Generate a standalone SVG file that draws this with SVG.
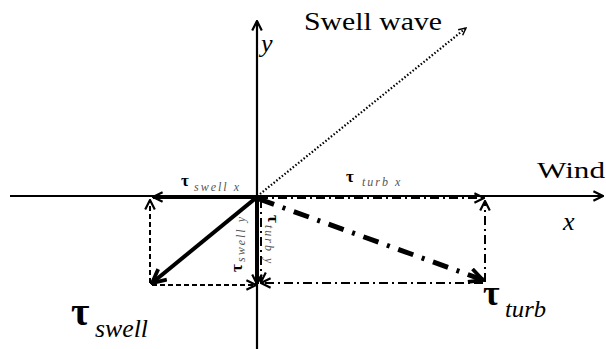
<svg xmlns="http://www.w3.org/2000/svg" width="606" height="349" viewBox="0 0 606 349">
<style>
.ax{stroke:#000;stroke-width:2.2;fill:none}
.thick{stroke:#000;stroke-width:4;fill:none}
.dash{stroke:#000;stroke-width:2;fill:none;stroke-dasharray:5 3}
.dd{stroke:#000;stroke-width:2;fill:none;stroke-dasharray:9 4 2 4}
.ddt{stroke:#000;stroke-width:5;fill:none;stroke-dasharray:16 9 3 9}
.dot{stroke:#000;stroke-width:2.2;fill:none;stroke-dasharray:1.5 2}
text{font-family:'Liberation Serif','DejaVu Serif','Times New Roman',serif}
.t{fill:#000}
.it{font-style:italic}
.sub{font-style:italic;fill:#555;font-size:12px;letter-spacing:2px}
.tau{font-weight:bold;fill:#000}
</style>
<defs>
<marker id="a" viewBox="0 0 10 10" refX="9" refY="5" markerWidth="12" markerHeight="12" markerUnits="userSpaceOnUse" orient="auto">
<path d="M1,1 L9,5 L1,9" fill="none" stroke="#000" stroke-width="1.8"/>
</marker>
<marker id="b" viewBox="0 0 10 10" refX="9" refY="5" markerWidth="17" markerHeight="17" markerUnits="userSpaceOnUse" orient="auto">
<path d="M1,1 L9,5 L1,9" fill="none" stroke="#000" stroke-width="2.2"/>
</marker>
<marker id="s" viewBox="0 0 10 10" refX="9" refY="5" markerWidth="9" markerHeight="9" markerUnits="userSpaceOnUse" orient="auto">
<path d="M1,1 L9,5 L1,9" fill="none" stroke="#000" stroke-width="1.6"/>
</marker>
</defs>
<g id="connectors">
<line class="ax" x1="10" y1="196" x2="603" y2="196" marker-end="url(#a)"/>
<line class="ax" x1="257" y1="349" x2="257" y2="21" marker-end="url(#a)"/>
<line class="dot" x1="260" y1="194" x2="466" y2="28" marker-end="url(#s)"/>
<line class="thick" x1="257" y1="197" x2="153" y2="197" marker-end="url(#a)"/>
<line class="thick" x1="257" y1="197" x2="257" y2="284" marker-end="url(#a)"/>
<line class="thick" x1="257" y1="197" x2="152" y2="283" marker-end="url(#b)"/>
<line class="dash" x1="150" y1="283" x2="150" y2="200" marker-end="url(#a)"/>
<line class="dash" x1="152" y1="285" x2="256" y2="285" marker-end="url(#a)"/>
<line class="dd" x1="259" y1="198" x2="484" y2="198" marker-end="url(#a)"/>
<line class="dd" x1="485" y1="282" x2="485" y2="201" marker-end="url(#a)"/>
<line class="dd" x1="483" y1="283" x2="261" y2="283" marker-end="url(#a)"/>
<line class="dd" x1="261" y1="199" x2="261" y2="282" marker-end="url(#a)"/>
<line class="ddt" x1="259" y1="199" x2="483" y2="280" marker-end="url(#b)"/>
</g>
<g id="axis-labels">
<text class="t it" x="261" y="52" font-size="26">y</text>
<text class="t it" x="563" y="230" font-size="26">x</text>
<text class="t" x="537" y="178" font-size="24" textLength="68" lengthAdjust="spacingAndGlyphs">Wind</text>
<text class="t" x="304" y="30" font-size="26" textLength="138" lengthAdjust="spacingAndGlyphs">Swell wave</text>
</g>
<g id="tau-swell-x">
<text class="tau" x="181" y="186" font-size="17">τ</text>
<text class="sub" x="194" y="191">swell x</text>
</g>
<g id="tau-turb-x">
<text class="tau" x="346" y="182" font-size="17">τ</text>
<text class="sub" x="362" y="186">turb  x</text>
</g>
<g id="tau-swell-y" transform="translate(242,272) rotate(-90)">
<text class="tau" x="0" y="0" font-size="17">τ</text>
<text class="sub" x="10" y="3" letter-spacing="0.5">swell y</text>
</g>
<g id="tau-turb-y" transform="translate(268,215) rotate(90)">
<text class="tau" x="0" y="0" font-size="17" font-weight="normal">τ</text>
<text class="sub" x="10" y="3" letter-spacing="0.5">turb y</text>
</g>
<g id="tau-swell">
<text class="tau" x="71" y="325" font-size="40">τ</text>
<text class="t it" x="95" y="337" font-size="26" textLength="53" lengthAdjust="spacingAndGlyphs">swell</text>
</g>
<g id="tau-turb">
<text class="tau" x="483" y="305" font-size="36">τ</text>
<text class="t it" x="505" y="317" font-size="24" textLength="41" lengthAdjust="spacingAndGlyphs">turb</text>
</g>
</svg>
